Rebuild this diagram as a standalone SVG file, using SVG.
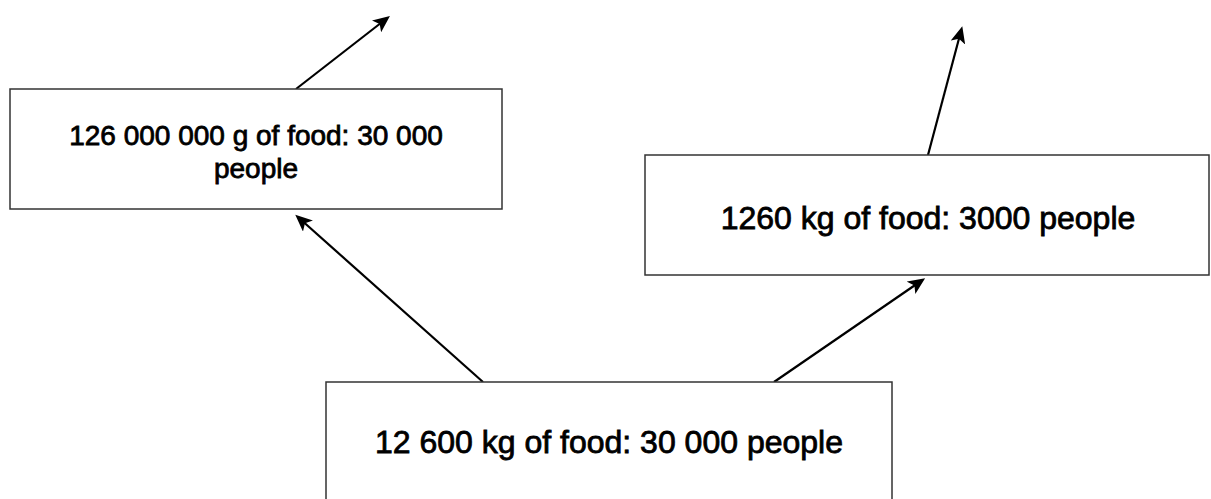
<svg xmlns="http://www.w3.org/2000/svg" width="1211" height="499" viewBox="0 0 1211 499">
<defs>
<style>
.box{fill:#fff;stroke:#333;stroke-width:1.5}
.lbl{font-family:"Liberation Sans",Arial,sans-serif;font-size:32px;fill:#000;text-anchor:middle;stroke:#000;stroke-width:0.8}
.edge{stroke:#000;stroke-width:2.2;fill:none;marker-end:url(#ah)}
</style>
<marker id="ah" markerWidth="17" markerHeight="15" refX="12" refY="7.5" orient="auto" markerUnits="userSpaceOnUse" viewBox="0 0 17 15">
<path d="M0,0 L17,7.5 L0,15 L4,7.5 Z" fill="#000"/>
</marker>
</defs>
<g id="connectors">
<line class="edge" x1="296" y1="89" x2="386" y2="19"/>
<line class="edge" x1="928" y1="155" x2="961" y2="31"/>
<line class="edge" x1="483" y1="382" x2="299" y2="218"/>
<line class="edge" x1="774" y1="382" x2="921" y2="281"/>
</g>
<g id="node-left">
<rect class="box" x="10" y="89" width="492" height="120"/>
<text class="lbl" x="256" y="145" style="font-size:28px">126 000 000 g of food: 30 000</text>
<text class="lbl" x="256" y="178" style="font-size:28px">people</text>
</g>
<g id="node-right">
<rect class="box" x="645" y="155" width="564" height="120"/>
<text class="lbl" x="928" y="229">1260 kg of food: 3000 people</text>
</g>
<g id="node-bottom">
<rect class="box" x="326" y="382" width="566" height="130"/>
<text class="lbl" x="609" y="453">12 600 kg of food: 30 000 people</text>
</g>
</svg>
